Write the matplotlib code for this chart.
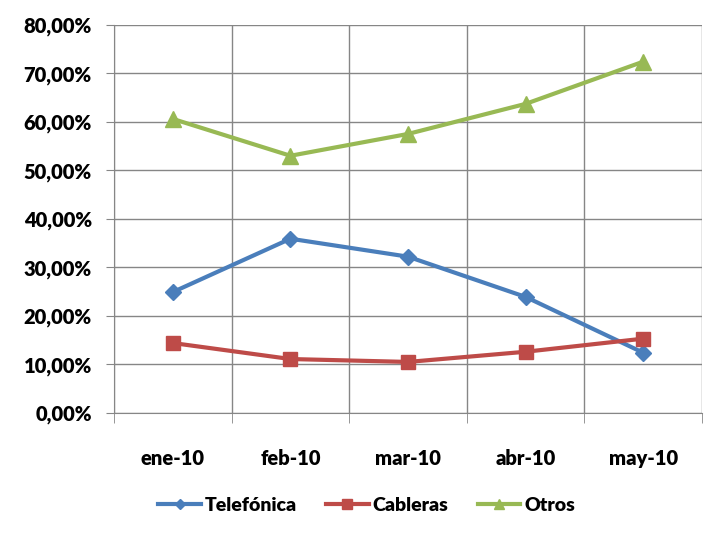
import matplotlib.pyplot as plt
import numpy as np
from matplotlib.ticker import FuncFormatter, FixedLocator

plt.rcParams['font.family'] = ['Lato', 'DejaVu Sans']

months = ['ene-10', 'feb-10', 'mar-10', 'abr-10', 'may-10']
telefonica = [24.9, 35.9, 32.2, 23.9, 12.4]
cableras = [14.4, 11.1, 10.5, 12.6, 15.3]
otros = [60.6, 53.0, 57.5, 63.7, 72.4]

fig = plt.figure(figsize=(7.26, 5.39), dpi=100)
ax = fig.add_axes([0.157, 0.234, 0.81, 0.72])

x = np.arange(len(months))
ax.plot(x, telefonica, color='#4A7EBB', lw=3, marker='D', ms=8, label='Telefónica')
ax.plot(x, cableras, color='#BE4B48', lw=3, marker='s', ms=10, label='Cableras')
ax.plot(x, otros, color='#98B954', lw=3, marker='^', ms=11, label='Otros')

ax.set_xlim(-0.5, 4.5)
ax.set_ylim(0, 80)
ax.set_yticks(np.arange(0, 81, 10))
ax.yaxis.set_major_formatter(FuncFormatter(lambda v, p: f'{v:.2f}%'.replace('.', ',')))
ax.set_xticks(x)
ax.set_xticklabels(months)
ax.xaxis.set_minor_locator(FixedLocator(np.arange(-0.5, 5, 1)))
ax.grid(True, axis='y', color='#868686', lw=1)
ax.grid(True, axis='x', which='minor', color='#868686', lw=1)
ax.tick_params(axis='x', which='major', length=0, pad=26)
ax.tick_params(axis='x', which='minor', length=7, color='#868686', direction='out')
ax.tick_params(axis='y', length=6, color='#868686', pad=10)
for lab in ax.get_xticklabels() + ax.get_yticklabels():
    lab.set_fontsize(14.5)
    lab.set_fontweight('heavy')
for s in ['top', 'right']:
    ax.spines[s].set_visible(False)
ax.spines['left'].set_color('#868686')
ax.spines['bottom'].set_color('#868686')
ax.set_axisbelow(True)

fig.legend(loc='center', bbox_to_anchor=(0.505, 0.062), ncol=3, frameon=False,
           prop={'size': 14, 'weight': 'heavy'}, handlelength=2.2, columnspacing=1.5,
           handletextpad=0.2, markerscale=0.7)

fig.savefig('out.png', dpi=100)
